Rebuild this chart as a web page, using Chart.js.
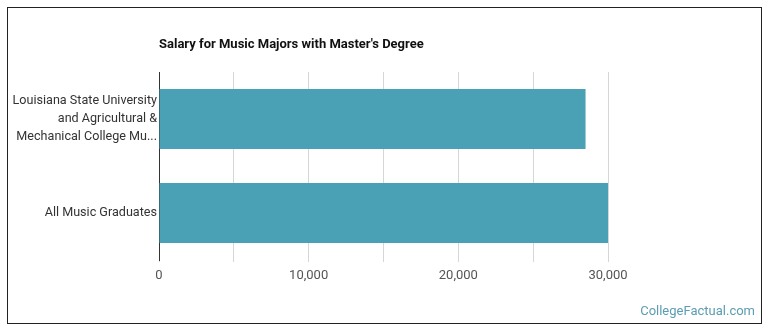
<!DOCTYPE html>
<html>
<head>
<meta charset="utf-8">
<script src="https://cdn.jsdelivr.net/npm/chart.js@4"></script>
<style>
html,body{margin:0;padding:0;background:#fff;}
#wrap{position:absolute;left:0;top:0;width:770px;height:335px;}
#frame{position:absolute;left:7px;top:7px;width:753px;height:315px;border:1.5px solid #222;pointer-events:none;}
</style>
</head>
<body>
<div id="wrap"><canvas id="c" width="770" height="335"></canvas><div id="frame"></div></div>
<script>
const categories = [
  ["Louisiana State University", "and Agricultural &", "Mechanical College Mu..."],
  "All Music Graduates"
];
const salaries = [28500, 30000];
const tickLabels = ["0", "10,000", "20,000", "30,000"];
const chartTitle = "Salary for Music Majors with Master's Degree";
const watermark = "CollegeFactual.com";

const extras = {
  id: 'extras',
  afterDraw(chart) {
    const ctx = chart.ctx;
    ctx.save();
    ctx.fillStyle = '#111';
    ctx.font = 'bold 13px Roboto';
    ctx.textBaseline = 'middle';
    ctx.textAlign = 'left';
    ctx.fillText(chartTitle, chart.chartArea.left, 45);
    ctx.fillStyle = '#5b9db2';
    ctx.font = '13px Roboto';
    ctx.textAlign = 'right';
    ctx.fillText(watermark, 755, 312);
    ctx.restore();
  }
};

new Chart(document.getElementById('c'), {
  type: 'bar',
  data: {
    labels: categories,
    datasets: [{
      data: salaries,
      backgroundColor: '#4aa0b4',
      borderWidth: 0,
      barPercentage: 0.64,
      categoryPercentage: 1.0
    }]
  },
  options: {
    indexAxis: 'y',
    responsive: false,
    animation: false,
    layout: { padding: { left: 0, right: 162, top: 72, bottom: 0 } },
    plugins: { legend: { display: false }, tooltip: { enabled: false }, title: { display: false } },
    scales: {
      x: {
        min: 0, max: 30000,
        afterFit(s) { s.height = 75; },
        border: { display: false },
        grid: { color: '#d6d6d6', lineWidth: 1, drawTicks: true, tickLength: 2 },
        ticks: {
          stepSize: 5000,
          color: '#555',
          font: { family: 'Roboto', size: 13 },
          padding: 6,
          maxRotation: 0,
          autoSkip: false,
          callback(v) {
            const i = v / 10000;
            return Number.isInteger(i) ? tickLabels[i] : '';
          }
        }
      },
      y: {
        afterFit(s) { s.width = 159; },
        border: { display: true, color: '#333', width: 1 },
        grid: { display: false, drawTicks: false },
        ticks: {
          color: '#333',
          font: { family: 'Roboto', size: 12.6, lineHeight: 1.45 },
          padding: 2
        }
      }
    }
  },
  plugins: [extras]
});
</script>
</body>
</html>
